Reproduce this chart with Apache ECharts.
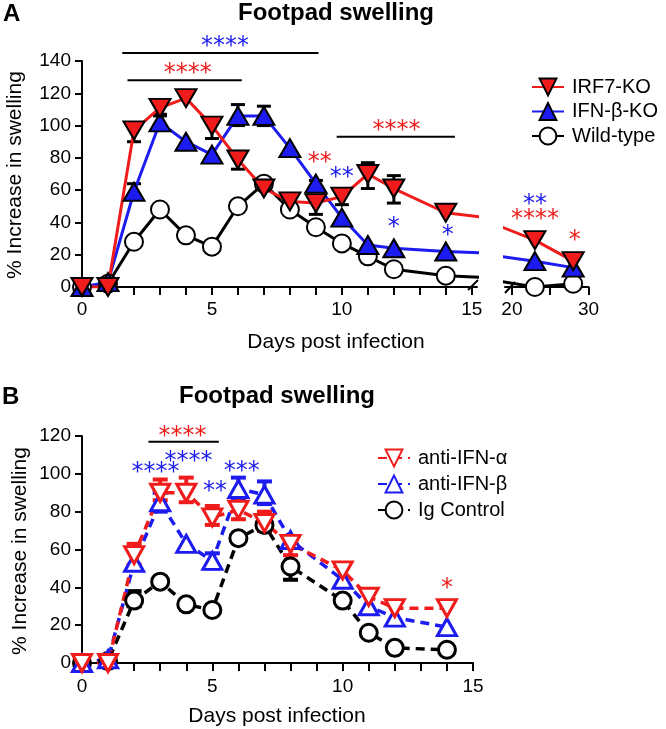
<!DOCTYPE html>
<html><head><meta charset="utf-8">
<script src="https://cdn.jsdelivr.net/npm/echarts@6/dist/echarts.min.js"></script>
<style>html,body{margin:0;padding:0;background:#fff}#c{width:666px;height:729px}</style>
</head><body><div id="c"></div>
<script>
// ---------- Panel A data ----------
const daysA = [0,1,2,3,4,5,6,7,8,9,10,11,12,14];
const lateDaysA = [23,28];
const irf7 = [0,0,97,111,117,100,79,61,53,52,56,70,61,46];
const irf7Late = [29,16];
const ifnbKO = [0,3,59,102,90,82,106,106,86,64,43,26,24,22];
const ifnbKOLate = [16,12];
const wildType = [0,2,28,48,32,25,50,64,48,37,27,19,11,7];
const wildTypeLate = [0,2];
// error bars: [day, low, high]
const irf7Err = [[2,90,100],[3,107,114],[5,92,105],[6,73,84],[8,50,57],[9,45,56],[10,51,61],[11,61,77],[12,52,69]];
const ifnbKOErr = [[2,55,64],[3,99,106],[6,100,113],[7,100,112],[9,60,66]];
// significance: [day, value, text]  and bars [fromDay, toDay, value]
const starsARed = [[4.07,135,'****'],[12.1,100,'****'],[9.15,80,'**']];
const starsABlue = [[5.5,152,'****'],[10.0,71,'**'],[12.0,40,'*'],[14.07,35,'*']];
const starsALateRed = [[23,45,'****'],[28.2,32,'*']];
const starsALateBlue = [[23,54,'**']];
const barsA = [[1.55,9.1,145],[1.75,6.15,128],[9.8,14.35,93]];
const xTicksA = [0,1,2,3,4,5,6,7,8,9,10,11,12,13,14,15];
const xLabelsA = [0,5,10,15];
const xTicksALate = [20,25,30];
const xLabelsALate = [20,30];

// ---------- Panel B data ----------
const daysB = [0,1,2,3,4,5,6,7,8,10,11,12,14];
const antiAlpha = [0,0,57,90,90,77,81,74,63,49,35,29,29];
const antiBeta = [0,2,53,85,63,54,92,89,65,44,30,24,19];
const igControl = [0,1,33,43,31,28,66,73,51,33,16,8,7];
const antiAlphaErr = [[2,52,63],[3,86,97],[4,85,98],[5,73,83],[6,76,88],[7,70,80],[8,57,67]];
const antiBetaErr = [[3,80,90],[5,50,58],[6,86,98],[7,84,96]];
const igControlErr = [[2,30,38],[7,70,78],[8,44,52]];
const starsBRed = [[3.86,122,'****'],[14,42,'*']];
const starsBBlue = [[2.82,103,'****'],[4.09,109,'****'],[5.1,93,'**'],[6.13,104,'***']];
const barsB = [[2.55,5.25,117]];

const RED = '#f01c1c', BLUE = '#1c1cf0', BLACK = '#000';
const FONT = 'Liberation Sans, Arial, sans-serif';

const zip = (xs, ys) => xs.map((x, i) => [x, ys[i]]);

function errRender(color, lw, capW) {
  return function (params, api) {
    const x = api.value(0);
    const lo = api.coord([x, api.value(1)]);
    const hi = api.coord([x, api.value(2)]);
    const st = {stroke: color, lineWidth: lw};
    return {type: 'group', children: [
      {type: 'line', shape: {x1: lo[0], y1: lo[1], x2: hi[0], y2: hi[1]}, style: st},
      {type: 'line', shape: {x1: lo[0]-capW, y1: lo[1], x2: lo[0]+capW, y2: lo[1]}, style: st},
      {type: 'line', shape: {x1: hi[0]-capW, y1: hi[1], x2: hi[0]+capW, y2: hi[1]}, style: st}
    ]};
  };
}
function errSeries(data, color, lw, capW, xi, yi) {
  return {type: 'custom', xAxisIndex: xi, yAxisIndex: yi, data: data, z: 1,
    encode: {x: 0, y: [1, 2]}, renderItem: errRender(color, lw, capW), silent: true};
}
function starSeries(arr, color, xi, yi) {
  return {type: 'custom', xAxisIndex: xi, yAxisIndex: yi, data: arr.map(a => [a[0], a[1]]), z: 5,
    encode: {x: 0, y: 1}, silent: true,
    renderItem: function (params, api) {
      const p = api.coord([api.value(0), api.value(1)]);
      return {type: 'text', x: p[0], y: p[1] + 5, style: {text: arr[params.dataIndex][2], fill: color,
        font: '24px DejaVu Sans', textAlign: 'center', textVerticalAlign: 'middle'}};
    }};
}
function barSeries(arr, xi, yi) {
  return {type: 'custom', xAxisIndex: xi, yAxisIndex: yi, data: arr, z: 5, silent: true,
    encode: {x: [0, 1], y: 2},
    renderItem: function (params, api) {
      const a = api.coord([api.value(0), api.value(2)]);
      const b = api.coord([api.value(1), api.value(2)]);
      return {type: 'line', shape: {x1: a[0], y1: a[1], x2: b[0], y2: b[1]}, style: {stroke: BLACK, lineWidth: 2}};
    }};
}
function lineA(name, data, color, sym, rot, size, xi, yi) {
  return {type: 'line', name: name, data: data, xAxisIndex: xi, yAxisIndex: yi, clip: true,
    symbol: sym, symbolRotate: rot, symbolSize: size, showAllSymbol: true,
    lineStyle: {color: color, width: 3}, itemStyle: {color: sym === 'circle' ? '#fff' : color, borderColor: BLACK, borderWidth: 2},
    emphasis: {disabled: true}};
}
function lineB(name, data, color, sym, rot, size) {
  return {type: 'line', name: name, data: data, xAxisIndex: 2, yAxisIndex: 2,
    symbol: sym, symbolRotate: rot, symbolSize: size, showAllSymbol: true,
    lineStyle: {color: color, width: 3.5, type: [9, 6]},
    itemStyle: {color: '#fff', borderColor: color, borderWidth: 3}, emphasis: {disabled: true}};
}

const axisLineStyle = {show: true, lineStyle: {color: BLACK, width: 2}};
const tickStyle = {show: true, length: 7, lineStyle: {color: BLACK, width: 2}};
const xTickStyle = {show: true, length: 8, lineStyle: {color: BLACK, width: 2}};
const labelStyle = {color: BLACK, fontSize: 19, fontFamily: FONT};

const chart = echarts.init(document.getElementById('c'), null, {renderer: 'canvas'});
const option = {
  animation: false,
  backgroundColor: '#fff',
  grid: [
    {left: 82, top: 61, width: 395, height: 226},
    {left: 505, top: 61, width: 83.5, height: 226},
    {left: 82, top: 436, width: 391, height: 227}
  ],
  xAxis: [
    {gridIndex: 0, type: 'value', min: 0, max: 15.2, axisLine: axisLineStyle,
      axisTick: Object.assign({customValues: xTicksA}, xTickStyle),
      axisLabel: Object.assign({customValues: xLabelsA, margin: 13}, labelStyle), splitLine: {show: false}},
    {gridIndex: 1, type: 'value', min: 19.1, max: 30, axisLine: axisLineStyle,
      axisTick: Object.assign({customValues: xTicksALate}, xTickStyle),
      axisLabel: Object.assign({customValues: xLabelsALate, margin: 13}, labelStyle), splitLine: {show: false}},
    {gridIndex: 2, type: 'value', min: 0, max: 15, interval: 1, axisLine: axisLineStyle,
      axisTick: xTickStyle,
      axisLabel: Object.assign({margin: 14, formatter: v => (v % 5 === 0 ? String(v) : '')}, labelStyle), splitLine: {show: false}}
  ],
  yAxis: [
    {gridIndex: 0, type: 'value', min: 0, max: 140, interval: 20, axisLine: axisLineStyle, axisTick: tickStyle,
      axisLabel: Object.assign({margin: 11}, labelStyle), splitLine: {show: false}},
    {gridIndex: 1, type: 'value', min: 0, max: 140, show: false},
    {gridIndex: 2, type: 'value', min: 0, max: 120, interval: 20, axisLine: axisLineStyle, axisTick: tickStyle,
      axisLabel: Object.assign({margin: 11}, labelStyle), splitLine: {show: false}}
  ],
  legend: [
    {data: ['IRF7-KO', 'IFN-β-KO', 'Wild-type'], orient: 'vertical', left: 526, top: 72,
      itemWidth: 32, itemHeight: 21, itemGap: 4.5, selectedMode: false, symbolRotate: 'inherit',
      textStyle: {fontSize: 20, fontFamily: FONT, color: BLACK, padding: [0, 0, 0, 3]}},
    {data: ['anti-IFN-α', 'anti-IFN-β', 'Ig Control'], orient: 'vertical', left: 372, top: 443,
      itemWidth: 32, itemHeight: 21, itemGap: 6, selectedMode: false, symbolRotate: 'inherit',
      textStyle: {fontSize: 20, fontFamily: FONT, color: BLACK, padding: [0, 0, 0, 3]}}
  ],
  series: [
    errSeries(irf7Err, BLACK, 3, 7, 0, 0),
    errSeries(ifnbKOErr, BLACK, 3, 7, 0, 0),
    lineA('Wild-type', zip(daysA.concat(lateDaysA), wildType.concat(wildTypeLate)), BLACK, 'circle', 0, 18, 0, 0),
    lineA('IFN-β-KO', zip(daysA.concat(lateDaysA), ifnbKO.concat(ifnbKOLate)), BLUE, 'triangle', 0, [21, 18], 0, 0),
    lineA('IRF7-KO', zip(daysA.concat(lateDaysA), irf7.concat(irf7Late)), RED, 'triangle', 180, [21, 18], 0, 0),
    lineA('Wild-type', zip([14].concat(lateDaysA), [wildType[13]].concat(wildTypeLate)), BLACK, 'circle', 0, 18, 1, 1),
    lineA('IFN-β-KO', zip([14].concat(lateDaysA), [ifnbKO[13]].concat(ifnbKOLate)), BLUE, 'triangle', 0, [21, 18], 1, 1),
    lineA('IRF7-KO', zip([14].concat(lateDaysA), [irf7[13]].concat(irf7Late)), RED, 'triangle', 180, [21, 18], 1, 1),
    barSeries(barsA, 0, 0),
    starSeries(starsARed, RED, 0, 0),
    starSeries(starsABlue, BLUE, 0, 0),
    starSeries(starsALateRed, RED, 1, 1),
    starSeries(starsALateBlue, BLUE, 1, 1),
    errSeries(igControlErr, BLACK, 4, 7.5, 2, 2),
    errSeries(antiBetaErr, BLUE, 4, 7.5, 2, 2),
    errSeries(antiAlphaErr, RED, 4, 7.5, 2, 2),
    lineB('Ig Control', zip(daysB, igControl), BLACK, 'circle', 0, 17),
    lineB('anti-IFN-β', zip(daysB, antiBeta), BLUE, 'triangle', 0, [19, 17]),
    lineB('anti-IFN-α', zip(daysB, antiAlpha), RED, 'triangle', 180, [19, 17]),
    barSeries(barsB, 2, 2),
    starSeries(starsBRed, RED, 2, 2),
    starSeries(starsBBlue, BLUE, 2, 2)
  ]
};
chart.setOption(option);

const endA = chart.convertToPixel({gridIndex: 0}, [15.2, 0]);
const startL = chart.convertToPixel({gridIndex: 1}, [19.1, 0]);
const txt = (id, text, x, y, font, align, rot) => ({type: 'text', id: id, x: x, y: y, rotation: rot || 0, z: 10,
  style: {text: text, font: font, fill: BLACK, textAlign: align || 'center', textVerticalAlign: 'middle'}});
chart.setOption({graphic: {elements: [
  {type: 'line', id: 's1', z: 10, shape: {x1: endA[0]-9, y1: endA[1]+3, x2: endA[0]+1, y2: endA[1]-7}, style: {stroke: BLACK, lineWidth: 2}},
  {type: 'line', id: 's2', z: 10, shape: {x1: startL[0], y1: startL[1]+6, x2: startL[0]+10, y2: startL[1]-5}, style: {stroke: BLACK, lineWidth: 2}},
  txt('la', 'A', 3, 14, 'bold 24px ' + FONT, 'left'),
  txt('ta', 'Footpad swelling', 336, 13, 'bold 24px ' + FONT),
  txt('xa', 'Days post infection', 336, 342, '21px ' + FONT),
  txt('ya', '% Increase in swelling', 15, 175, '21px ' + FONT, 'center', Math.PI / 2),
  txt('lb', 'B', 2, 397, 'bold 24px ' + FONT, 'left'),
  txt('tb', 'Footpad swelling', 277, 396, 'bold 24px ' + FONT),
  txt('xb', 'Days post infection', 277, 716, '21px ' + FONT),
  txt('yb', '% Increase in swelling', 20, 551, '21px ' + FONT, 'center', Math.PI / 2)
]}});
</script>
</body></html>
